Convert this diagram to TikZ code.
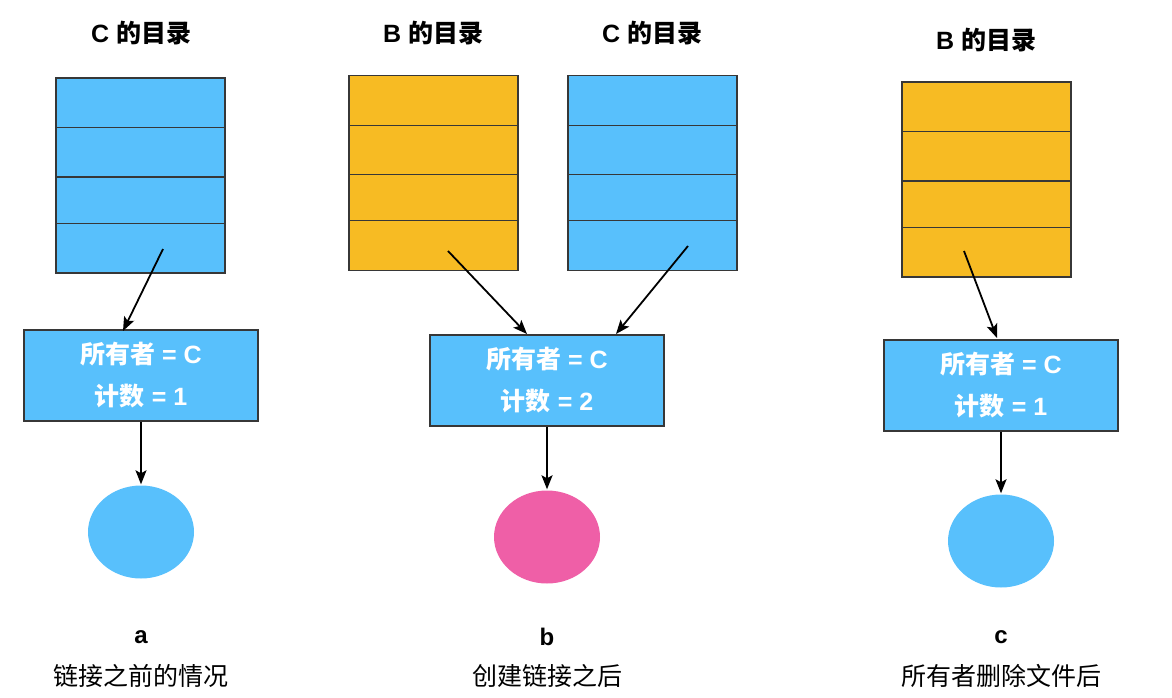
\documentclass[tikz,border=0pt]{standalone}
\usepackage{fontspec}
\setmainfont{Liberation Sans}
\newfontfamily\cjk{Noto Sans CJK SC}
\usetikzlibrary{arrows.meta,shapes.geometric,calc}
\definecolor{sky}{RGB}{88,192,252}
\definecolor{amber}{RGB}{247,187,35}
\definecolor{rose}{RGB}{239,95,167}
\definecolor{edgegray}{RGB}{55,55,55}
\tikzset{
  dirbox/.style={draw=edgegray, line width=1.2pt, minimum width=169pt, minimum height=195pt, inner sep=0pt},
  inode/.style={draw=edgegray, fill=sky, line width=1.2pt, minimum width=234pt, minimum height=91pt, inner sep=0pt, text=white, align=center, font=\fontsize{25}{42}\selectfont\bfseries},
  fileobj/.style={ellipse, draw=none, minimum width=106pt, minimum height=93pt, inner sep=0pt},
  dirtitle/.style={font=\fontsize{25}{30}\selectfont\bfseries},
  caption/.style={font=\fontsize{25}{30}\selectfont},
  letter/.style={font=\fontsize{24}{30}\selectfont\bfseries},
  arr/.style={-{Stealth[length=14pt,width=11pt,inset=3pt]}, line width=1.8pt},
  divider/.style={draw=edgegray, line width=1.2pt}
}
\newcommand{\rowlines}[1]{%
  \foreach \f in {0.256,0.508,0.744}
    \draw[divider] ($(#1.north west)!\f!(#1.south west)$) -- ($(#1.north east)!\f!(#1.south east)$);}
\begin{document}
\begin{tikzpicture}[x=1pt,y=-1pt]
\useasboundingbox (0,0) rectangle (1172,698);
% titles
\node[dirtitle] (ta) at (141,33) {C {\cjk 的目录}};
\node[dirtitle] (tb1) at (433,33) {B {\cjk 的目录}};
\node[dirtitle] (tb2) at (652,33) {C {\cjk 的目录}};
\node[dirtitle] (tc) at (986,40) {B {\cjk 的目录}};
% directory boxes
\node[dirbox, fill=sky] (da) at (140.5,175.5) {};
\node[dirbox, fill=amber] (db1) at (433.5,173) {};
\node[dirbox, fill=sky] (db2) at (652.5,173) {};
\node[dirbox, fill=amber] (dc) at (986.5,179.5) {};
\rowlines{da}
\rowlines{db1}
\rowlines{db2}
\rowlines{dc}
% inodes
\node[inode] (ia) at (141,375.5) {{\cjk 所有者} = C\\{\cjk 计数} = 1};
\node[inode] (ib) at (547,380.5) {{\cjk 所有者} = C\\{\cjk 计数} = 2};
\node[inode] (ic) at (1001,385.5) {{\cjk 所有者} = C\\{\cjk 计数} = 1};
% files
\node[fileobj, fill=sky] (ea) at (141,532) {};
\node[fileobj, fill=rose] (eb) at (547,537) {};
\node[fileobj, fill=sky] (ec) at (1001,541) {};
% captions
\node[letter] (la) at (141,637) {a};
\node[caption] (ca) at (141,676) {\cjk 链接之前的情况};
\node[letter] (lb) at (547,637) {b};
\node[caption] (cb) at (547,676) {\cjk 创建链接之后};
\node[letter] (lc) at (1001,637) {c};
\node[caption] (cc) at (1001,676) {\cjk 所有者删除文件后};
% arrow end points
\coordinate (sa) at (163,249);
\coordinate (xa) at (123,331);
\coordinate (sb1) at (448,251);
\coordinate (xb1) at (527,334);
\coordinate (sb2) at (688,246);
\coordinate (xb2) at (616,334);
\coordinate (sc) at (964,251);
\coordinate (xc) at (997,338);
\draw[arr] (sa) -- (xa);
\draw[arr] (sb1) -- (xb1);
\draw[arr] (sb2) -- (xb2);
\draw[arr] (sc) -- (xc);
\draw[arr, shorten >=1pt] (ia) -- (ea);
\draw[arr, shorten >=1pt] (ib) -- (eb);
\draw[arr, shorten >=1pt] (ic) -- (ec);
\end{tikzpicture}
\end{document}
